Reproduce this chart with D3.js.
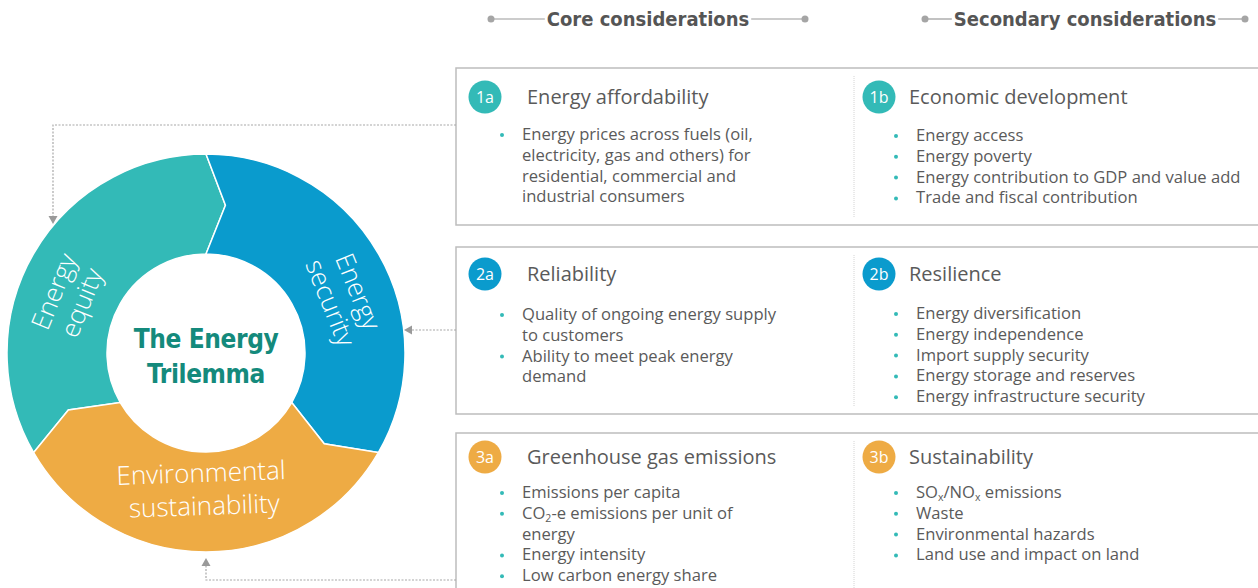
<!DOCTYPE html>
<html><head><meta charset="utf-8">
<script src="https://cdn.jsdelivr.net/npm/d3@7"></script>
<style>body{margin:0;background:#fff}svg{display:block}</style>
</head><body><svg id="c" width="1258" height="588"></svg>
<script>
// ---------- data ----------
const pillars = ["Energy equity", "Energy security", "Environmental sustainability"];
const pillarLines = [["Energy", "equity"], ["Energy", "security"], ["Environmental", "sustainability"]];
const pillarShares = [1, 1, 1];
const chartTitle = ["The Energy", "Trilemma"];
const columnHeaders = ["Core considerations", "Secondary considerations"];
const coreBadges = ["1a", "2a", "3a"];
const coreTitles = ["Energy affordability", "Reliability", "Greenhouse gas emissions"];
const coreBullets = [
  [["Energy prices across fuels (oil,", "electricity, gas and others) for", "residential, commercial and", "industrial consumers"]],
  [["Quality of ongoing energy supply", "to customers"], ["Ability to meet peak energy", "demand"]],
  [["Emissions per capita"], ["CO{2}-e emissions per unit of", "energy"], ["Energy intensity"], ["Low carbon energy share"]]
];
const secondaryBadges = ["1b", "2b", "3b"];
const secondaryTitles = ["Economic development", "Resilience", "Sustainability"];
const secondaryBullets = [
  [["Energy access"], ["Energy poverty"], ["Energy contribution to GDP and value add"], ["Trade and fiscal contribution"]],
  [["Energy diversification"], ["Energy independence"], ["Import supply security"], ["Energy storage and reserves"], ["Energy infrastructure security"]],
  [["SO{x}/NO{x} emissions"], ["Waste"], ["Environmental hazards"], ["Land use and impact on land"]]
];

// ---------- styles / layout ----------
const pillarColors = ["#33BAB7", "#0A9BCD", "#EEAB44"];
const textGray = "#5a5a5a";
const condensed = "'Liberation Sans Narrow','DejaVu Sans Condensed','Arial Narrow',sans-serif";
const sans = "'Open Sans','Noto Sans',sans-serif";

const svg = d3.select("#c");
const cx = 206, cy = 353, R = 199, r = 99, rm = 149, tip = 7.5 * Math.PI / 180;
const pt = (rad, a) => [cx + rad * Math.sin(a), cy - rad * Math.cos(a)];

function segPath(a0, a1) {
  const p = d3.path();
  p.moveTo(...pt(R, a0));
  p.arc(cx, cy, R, a0 - Math.PI / 2, a1 - Math.PI / 2, false);
  p.lineTo(...pt(rm, a1 + tip));
  p.lineTo(...pt(r, a1));
  p.arc(cx, cy, r, a1 - Math.PI / 2, a0 - Math.PI / 2, true);
  p.lineTo(...pt(rm, a0 + tip));
  p.closePath();
  return p.toString();
}

const pie = d3.pie().sort(null).startAngle(-2 * Math.PI / 3).endAngle(4 * Math.PI / 3);
const arcs = pie(pillarShares);

svg.append("g").selectAll("path").data(arcs).join("path")
  .attr("d", d => segPath(d.startAngle, d.endAngle))
  .attr("fill", (d, i) => pillarColors[i])
  .attr("stroke", "#fff").attr("stroke-width", 1.5)
  .append("title").text((d, i) => pillars[i]);

// pillar labels
const labelAngle = [-68, 68];
pillarLines.forEach((lines, i) => {
  let g;
  if (i < 2) {
    const a = labelAngle[i] * Math.PI / 180;
    const [x, y] = pt(147, a);
    g = svg.append("g").attr("transform", `translate(${x},${y}) rotate(${labelAngle[i]})`);
    lines.forEach((t, k) => g.append("text").attr("x", 0).attr("y", k === 0 ? -8 : 22)
      .attr("text-anchor", "middle").attr("fill", "#fff")
      .style("font-family", sans).style("font-weight", 300).style("font-size", "26px").text(t));
  } else {
    g = svg.append("g").attr("transform", `translate(${cx - 4},${cy + 146}) rotate(-2)`);
    lines.forEach((t, k) => g.append("text").attr("x", k === 0 ? 0 : 2).attr("y", k === 0 ? -17 : 16)
      .attr("text-anchor", "middle").attr("fill", "#fff")
      .style("font-family", sans).style("font-weight", 300).style("font-size", "26px").text(t));
  }
});

// center title
chartTitle.forEach((t, k) => svg.append("text")
  .attr("x", cx).attr("y", k === 0 ? 348 : 383).attr("text-anchor", "middle")
  .attr("fill", "#148A7C").style("font-family", condensed).style("font-weight", 700)
  .style("font-size", "26px").style("letter-spacing", "-0.4px").text(t));

// column headers
const headerCx = [648, 1085];
const headerHalf = [157, 160];
columnHeaders.forEach((t, i) => {
  const txt = svg.append("text").attr("x", headerCx[i]).attr("y", 26).attr("text-anchor", "middle")
    .attr("fill", "#555").style("font-family", condensed).style("font-weight", 700)
    .style("font-size", "20px").text(t);
  const w = txt.node().getComputedTextLength();
  const l0 = headerCx[i] - headerHalf[i], l1 = headerCx[i] - w / 2 - 2;
  const r0 = headerCx[i] + w / 2 + 2, r1 = headerCx[i] + headerHalf[i];
  svg.append("line").attr("x1", l0).attr("x2", l1).attr("y1", 19).attr("y2", 19).attr("stroke", "#999").attr("stroke-width", 1.2);
  svg.append("line").attr("x1", r0).attr("x2", r1).attr("y1", 19).attr("y2", 19).attr("stroke", "#999").attr("stroke-width", 1.2);
  [l0, r1].forEach(x => svg.append("circle").attr("cx", x).attr("cy", 19).attr("r", 3.5).attr("fill", "#a5a5a5"));
});

// boxes
const rowTop = [68, 247, 433], rowBottom = [225, 414, 620];
const headY = [97, 274, 457];
const coreStart = [134, 314, 492], secStart = [135, 313, 492];
const lineH = 20.8;

function richText(sel, s) {
  const parts = s.split(/(\{[^}]+\})/).filter(p => p.length);
  parts.forEach(p => {
    if (p.startsWith("{")) {
      sel.append("tspan").attr("baseline-shift", "-2.5").style("font-size", "10.5px").text(p.slice(1, -1));
    } else {
      sel.append("tspan").text(p);
    }
  });
}

function drawColumn(row, badges, titles, bullets, starts, bx, hx, dotX, tx) {
  const c = svg.append("g");
  c.append("circle").attr("cx", bx).attr("cy", headY[row]).attr("r", 16.5).attr("fill", pillarColors[row]);
  c.append("text").attr("x", bx).attr("y", headY[row] + 6).attr("text-anchor", "middle")
    .attr("fill", "#fff").style("font-family", sans).style("font-size", "16px").text(badges[row]);
  c.append("text").attr("x", hx).attr("y", headY[row] + 7).attr("fill", textGray)
    .style("font-family", sans).style("font-size", "20px").text(titles[row]);
  let k = 0;
  bullets[row].forEach(lines => {
    const y0 = starts[row] + k * lineH;
    c.append("circle").attr("cx", dotX).attr("cy", y0 + 1).attr("r", 2).attr("fill", "#33BAB7");
    lines.forEach(line => {
      const t = c.append("text").attr("x", tx).attr("y", starts[row] + k * lineH + 6)
        .attr("fill", textGray).style("font-family", sans).style("font-size", "16.6px");
      richText(t, line);
      k++;
    });
  });
}

for (let row = 0; row < 3; row++) {
  svg.append("rect").attr("x", 456).attr("y", rowTop[row]).attr("width", 830)
    .attr("height", rowBottom[row] - rowTop[row]).attr("fill", "none")
    .attr("stroke", "#bdbdbd").attr("stroke-width", 1.5);
  svg.append("line").attr("x1", 854).attr("x2", 854)
    .attr("y1", rowTop[row] + 8).attr("y2", Math.min(rowBottom[row] - 8, 588))
    .attr("stroke", "#d4d4d4").attr("stroke-width", 1).attr("stroke-dasharray", "1,1");
  drawColumn(row, coreBadges, coreTitles, coreBullets, coreStart, 485, 527, 502, 522);
  drawColumn(row, secondaryBadges, secondaryTitles, secondaryBullets, secStart, 879, 909, 896, 916);
}

// connectors
const conn = [
  { d: "M456,125H53V216", tip: [53, 224], dir: "down" },
  { d: "M456,330H412", tip: [404, 330], dir: "left" },
  { d: "M456,580H206V566", tip: [206, 558], dir: "up" }
];
conn.forEach(c => {
  svg.append("path").attr("d", c.d).attr("fill", "none").attr("stroke", "#a8a8a8")
    .attr("stroke-width", 1.2).attr("stroke-dasharray", "2,1.5");
  const [x, y] = c.tip;
  let tri;
  if (c.dir === "down") tri = `M${x},${y}L${x - 4.5},${y - 8}L${x + 4.5},${y - 8}Z`;
  else if (c.dir === "left") tri = `M${x},${y}L${x + 8},${y - 4.5}L${x + 8},${y + 4.5}Z`;
  else tri = `M${x},${y}L${x - 4.5},${y + 8}L${x + 4.5},${y + 8}Z`;
  svg.append("path").attr("d", tri).attr("fill", "#9a9a9a");
});
</script></body></html>
